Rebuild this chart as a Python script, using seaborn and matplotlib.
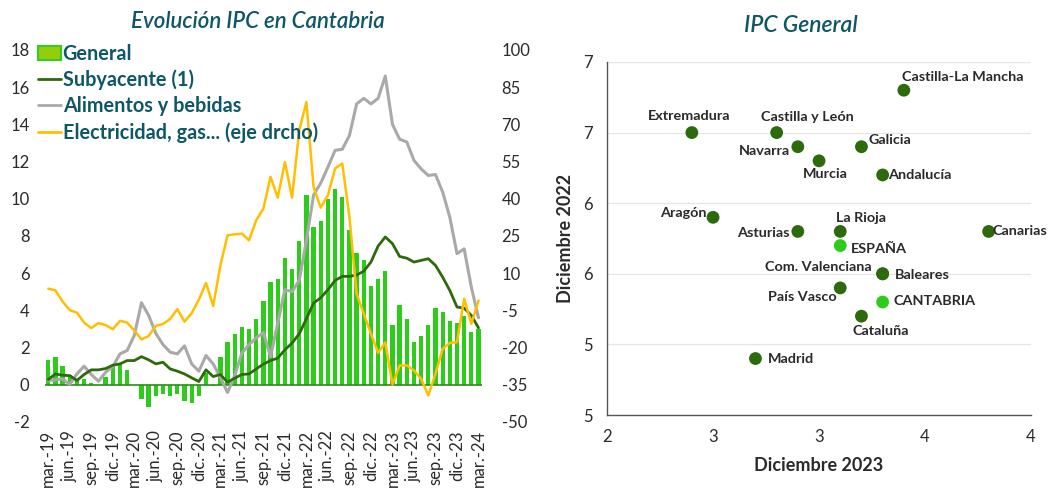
import numpy as np
import pandas as pd
import matplotlib
matplotlib.use('Agg')
import matplotlib.pyplot as plt
import seaborn as sns
from matplotlib.patches import Patch
from matplotlib.lines import Line2D
from matplotlib.ticker import FuncFormatter

# ---- datos: panel izquierdo (mar-19 .. mar-24, mensual) ----
meses = pd.date_range('2019-03-01', '2024-03-01', freq='MS')
abrev = ['ene.', 'feb.', 'mar.', 'abr.', 'may.', 'jun.', 'jul.', 'ago.', 'sep.', 'oct.', 'nov.', 'dic.']
etiquetas = [f"{abrev[m.month - 1]}-{str(m.year)[2:]}" for m in meses]

general = [1.3, 1.5, 1.0, 0.5, 0.3, 0.3, 0.1, 0.0, 0.4, 1.0,
           1.1, 0.8, 0.0, -0.8, -1.2, -0.6, -0.5, -0.6, -0.5, -0.9,
           -1.0, -0.6, 0.6, -0.1, 1.5, 2.3, 2.7, 3.1, 3.0, 3.5,
           4.5, 5.5, 5.7, 6.8, 6.2, 7.7, 10.2, 8.5, 8.8, 10.0,
           10.5, 10.1, 8.3, 7.1, 6.7, 5.3, 5.7, 6.1, 3.2, 4.3,
           3.5, 2.3, 2.6, 3.2, 4.1, 3.9, 3.4, 3.3, 3.7, 2.8,
           3.0]
subyacente = [0.27, 0.57, 0.5, 0.48, 0.22, 0.54, 0.79, 0.79, 0.86, 1.04,
              1.11, 1.29, 1.29, 1.5, 1.33, 1.11, 1.2, 0.84, 0.72, 0.57,
              0.36, 0.16, 0.79, 0.43, 0.54, 0.13, 0.34, 0.54, 0.57, 0.84,
              1.1, 1.29, 1.42, 1.87, 2.23, 2.73, 3.54, 4.38, 4.67, 5.1,
              5.6, 5.82, 5.82, 5.89, 6.1, 6.59, 7.45, 7.94, 7.58, 6.89,
              6.8, 6.59, 6.68, 6.77, 6.41, 5.78, 5.06, 4.17, 4.11, 3.72,
              3.05]
alimentos = [0.22, 0.25, 0.3, 0.0, 0.57, 0.99, 0.54, 0.18, 0.66, 0.97,
             1.65, 1.83, 2.64, 4.4, 3.72, 2.75, 2.15, 1.74, 1.65, 2.08,
             1.11, 0.72, 1.56, 1.11, 0.39, -0.43, 0.48, 1.69, 2.15, 2.51,
             2.8, 1.5, 3.3, 5.1, 5.0, 5.6, 7.76, 10.2, 10.84, 11.7,
             12.6, 12.66, 13.4, 15.1, 15.4, 15.1, 15.4, 16.6, 14.0, 13.2,
             13.05, 12.06, 11.6, 11.25, 11.3, 10.36, 9.0, 7.04, 7.3, 5.24,
             3.59]
electricidad = [3.7, 3.0, -1.5, -5.0, -6.0, -10.0, -12.2, -10.2, -11.0, -12.7,
                -9.3, -10.0, -13.2, -16.8, -15.4, -11.3, -10.6, -8.5, -4.6, -9.6,
                -6.2, -0.8, 6.0, -3.3, 13.0, 25.2, 25.6, 25.9, 23.2, 31.3,
                36.0, 48.8, 40.4, 54.8, 40.4, 67.6, 79.0, 44.7, 36.4, 41.4,
                52.2, 54.2, 32.6, 1.6, -6.4, -14.5, -22.2, -18.0, -35.0, -27.3,
                -27.3, -29.3, -32.7, -39.4, -30.7, -20.6, -18.2, -17.9, -0.4, -10.5,
                -1.1]

# ---- datos: panel derecho ----
regiones = ['Andalucía', 'Aragón', 'Asturias', 'Baleares', 'Canarias', 'CANTABRIA',
            'Castilla y León', 'Castilla-La Mancha', 'Cataluña', 'Com. Valenciana',
            'Extremadura', 'Galicia', 'Madrid', 'Murcia', 'Navarra', 'País Vasco',
            'La Rioja', 'ESPAÑA']
dic_2023 = [3.3, 2.5, 2.9, 3.3, 3.8, 3.3, 2.8, 3.4, 3.2, 3.3,
            2.4, 3.2, 2.7, 3.0, 2.9, 3.1, 3.1, 3.1]
dic_2022 = [6.2, 5.9, 5.8, 5.5, 5.8, 5.3, 6.5, 6.8, 5.2, 5.5,
            6.5, 6.4, 4.9, 6.3, 6.4, 5.4, 5.8, 5.7]
destacados = ['CANTABRIA', 'ESPAÑA']

# colores
VERDE = '#2ecc1a'
VERDE_OSC = '#2c6a0c'
GRIS = '#a9a9a9'
AMARILLO = '#ffbf00'
TEAL = '#0d5767'
TXT = '#2a2a2a'

sns.set_theme(style='white')
plt.rcParams['font.family'] = ['Lato', 'DejaVu Sans']
plt.rcParams['axes.unicode_minus'] = False

fig = plt.figure(figsize=(10.51, 4.99), dpi=100)

# ==========================================
# 1. EVOLUCIÓN IPC EN CANTABRIA
# ==========================================
ax = fig.add_axes([0.0425, 0.1549, 0.4162, 0.7449])
idx = np.arange(len(meses))

sns.barplot(x=idx, y=general, color=VERDE, width=0.6, ax=ax,
            saturation=1, linewidth=0, edgecolor='none', zorder=2)
ax.axhline(0, color='#2b8a1a', lw=1.2, zorder=3)
sns.lineplot(x=idx, y=alimentos, color=GRIS, lw=2.2, ax=ax, zorder=4)
sns.lineplot(x=idx, y=subyacente, color=VERDE_OSC, lw=2.0, ax=ax, zorder=5)

ax.set_xlim(-0.5, len(meses) - 0.5)
ax.set_ylim(-2, 18)
ax.set_yticks(np.arange(-2, 19, 2))
ax.set_xticks(idx[::3])
ax.set_xticklabels(etiquetas[::3], rotation=90, fontsize=12, color=TXT)
ax.tick_params(axis='y', labelsize=12, colors=TXT, pad=11, length=0)
ax.tick_params(axis='x', pad=6, length=0)
for s in ax.spines.values():
    s.set_visible(False)

ax2 = ax.twinx()
sns.lineplot(x=idx, y=electricidad, color=AMARILLO, lw=1.8, ax=ax2)
ax2.set_ylim(-50, 100)
ax2.set_yticks(np.arange(-50, 101, 15))
ax2.tick_params(axis='y', labelsize=12, colors=TXT, pad=14, length=0)
for s in ax2.spines.values():
    s.set_visible(False)
ax.set_xlim(-0.5, len(meses) - 0.5)

handles = [Patch(facecolor='#92cf0a', edgecolor='#33cc22', lw=1.5),
           Line2D([], [], color=VERDE_OSC, lw=2),
           Line2D([], [], color=GRIS, lw=2),
           Line2D([], [], color=AMARILLO, lw=2)]
nombres = ['General', 'Subyacente (1)', 'Alimentos y bebidas', 'Electricidad, gas... (eje drcho)']
leg = ax2.legend(handles, nombres, loc='upper left', bbox_to_anchor=(0.036, 0.912),
                 bbox_transform=fig.transFigure, frameon=False, fontsize=14.3,
                 handlelength=1.15, handletextpad=0.1, labelspacing=0.3,
                 borderpad=0, borderaxespad=0)
for t in leg.get_texts():
    t.set_color(TEAL)
    t.set_fontweight('bold')

fig.text(258 / 1051, 1 - 22 / 499, 'Evolución IPC en Cantabria', ha='center', va='center',
         fontsize=16, style='italic', fontweight='semibold', color=TEAL)

# ==========================================
# 2. IPC GENERAL (DISPERSIÓN)
# ==========================================
bx = fig.add_axes([0.5776, 0.1683, 0.4034, 0.7075])
df = pd.DataFrame({'region': regiones, 'x': dic_2023, 'y': dic_2022})
df['grupo'] = np.where(df['region'].isin(destacados), 'dest', 'normal')
sns.scatterplot(data=df, x='x', y='y', hue='grupo',
                palette={'normal': VERDE_OSC, 'dest': VERDE},
                s=85, edgecolor='none', legend=False, ax=bx, zorder=3)

# desplazamiento de etiquetas (pixeles) y alineación
pos_etiq = {
    'Castilla-La Mancha': (-2, 13, 'left'),
    'Extremadura': (-3, 17, 'center'),
    'Castilla y León': (31, 16, 'center'),
    'Navarra': (-8, -4, 'right'),
    'Murcia': (6, -13, 'center'),
    'Galicia': (7, 7, 'left'),
    'Andalucía': (5, 0, 'left'),
    'Aragón': (-6, 4, 'right'),
    'Asturias': (-8, -2, 'right'),
    'La Rioja': (-4, 13, 'left'),
    'Canarias': (4, 0, 'left'),
    'ESPAÑA': (11, -3, 'left'),
    'Com. Valenciana': (-11, 7, 'right'),
    'Baleares': (12, -1, 'left'),
    'País Vasco': (-4, -9, 'right'),
    'CANTABRIA': (11, 1, 'left'),
    'Cataluña': (19, -15, 'center'),
    'Madrid': (12, 0, 'left'),
}
for _, r in df.iterrows():
    dx, dy, ha = pos_etiq[r['region']]
    bx.annotate(r['region'], (r['x'], r['y']), xytext=(dx, dy), textcoords='offset pixels',
                ha=ha, va='center', fontsize=10.4, fontweight='bold', color=TXT)

bx.set_xlim(2, 4)
bx.set_ylim(4.5, 7.0)
bx.set_xticks(np.arange(2, 4.01, 0.5))
bx.set_yticks(np.arange(4.5, 7.01, 0.5))
redondeo = FuncFormatter(lambda v, p: f"{int(np.floor(v + 0.5))}")
bx.xaxis.set_major_formatter(redondeo)
bx.yaxis.set_major_formatter(redondeo)
bx.grid(axis='y', color='#e6e6e6', lw=0.9)
bx.grid(axis='x', visible=False)
bx.tick_params(axis='both', labelsize=12, colors=TXT, length=0)
bx.tick_params(axis='x', pad=10)
bx.tick_params(axis='y', pad=10)
for k in ['top', 'right']:
    bx.spines[k].set_visible(False)
for k in ['left', 'bottom']:
    bx.spines[k].set_color('#555555')
    bx.spines[k].set_linewidth(1.0)
bx.set_xlabel('Diciembre 2023', fontsize=13, fontweight='bold', color=TXT, labelpad=9)
bx.set_ylabel('Diciembre 2022', fontsize=13, fontweight='bold', color=TXT, labelpad=7)

fig.text(801 / 1051, 1 - 25 / 499, 'IPC General', ha='center', va='center',
         fontsize=16.5, style='italic', fontweight='semibold', color=TEAL)

plt.savefig('out.png', dpi=100)
